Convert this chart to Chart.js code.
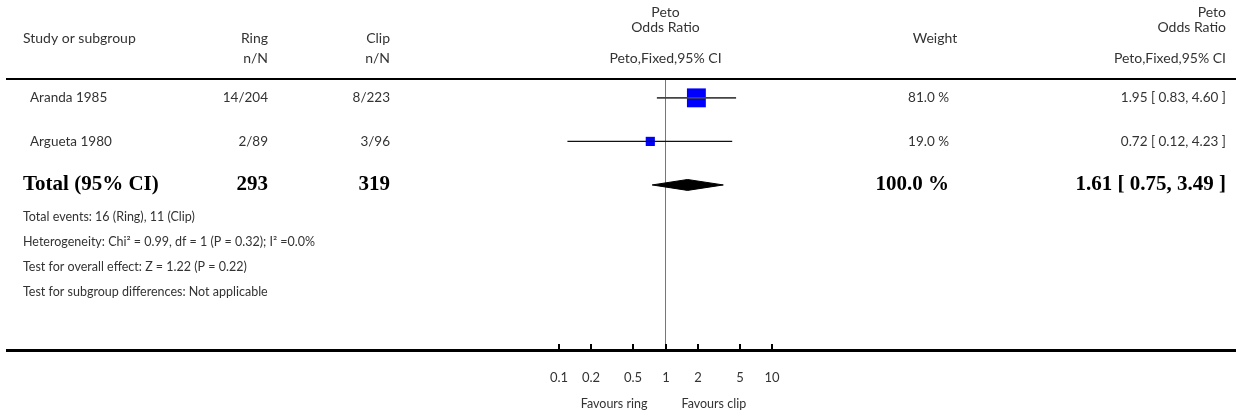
<!DOCTYPE html>
<html><head><meta charset="utf-8">
<script src="https://cdn.jsdelivr.net/npm/chart.js@4.4.1/dist/chart.umd.min.js"></script>
<style>html,body{margin:0;padding:0;background:#fff}#wrap{width:1236px;height:418px;position:relative}</style>
</head><body><div id="wrap"><canvas id="c" width="1236" height="418"></canvas></div>
<script>
// ---- data ----
const studies = ['Aranda 1985', 'Argueta 1980'];
const ringEvents = ['14/204', '2/89'];
const clipEvents = ['8/223', '3/96'];
const oddsRatio = [1.95, 0.72];
const ciLow = [0.83, 0.12];
const ciHigh = [4.60, 4.23];
const weights = [81.0, 19.0];
const weightLabels = ['81.0 %', '19.0 %'];
const ciLabels = ['1.95 [ 0.83, 4.60 ]', '0.72 [ 0.12, 4.23 ]'];
const totalLabel = 'Total (95% CI)';
const totalRing = '293';
const totalClip = '319';
const totalOR = 1.61, totalLow = 0.75, totalHigh = 3.49;
const totalWeight = '100.0 %';
const totalCI = '1.61 [ 0.75, 3.49 ]';
const footnotes = [
  'Total events: 16 (Ring), 11 (Clip)',
  'Heterogeneity: Chi² = 0.99, df = 1 (P = 0.32); I² =0.0%',
  'Test for overall effect: Z = 1.22 (P = 0.22)',
  'Test for subgroup differences: Not applicable'
];
const tickValues = [0.1, 0.2, 0.5, 1, 2, 5, 10];
const tickLabels = ['0.1', '0.2', '0.5', '1', '2', '5', '10'];
const favourLeft = 'Favours ring', favourRight = 'Favours clip';

// ---- datasets ----
const FONT = 'Lato, "Open Sans", sans-serif';
const SERIF = '"Liberation Serif", "DejaVu Serif", serif';
const TXT = '#333';
const totalRow = studies.length;
const ds = [];
studies.forEach((s, i) => {
  ds.push({type: 'line', data: [{x: ciLow[i], y: i}, {x: ciHigh[i], y: i}],
    borderColor: i === 0 ? '#444' : '#111', borderWidth: i === 0 ? 1.6 : 1.1, pointRadius: 0, fill: false});
});
ds.push({type: 'scatter', data: studies.map((s, i) => ({x: oddsRatio[i], y: i})),
  pointStyle: 'rect', backgroundColor: '#0000ff', borderWidth: 0,
  pointBorderWidth: 0,
  pointRadius: weights.map(w => 2.1 * Math.sqrt(w) / Math.SQRT2),
  pointHoverRadius: weights.map(w => 2.1 * Math.sqrt(w) / Math.SQRT2)});
ds.push({type: 'scatter', data: studies.map((s, i) => ({x: oddsRatio[i], y: i})),
  pointStyle: 'line', rotation: 90, borderColor: '#000', pointBorderColor: '#000', pointBorderWidth: 1,
  pointRadius: 3});
// diamond (upper + lower halves)
const dh = 0.125;
ds.push({type: 'line', data: [{x: totalLow, y: totalRow}, {x: totalOR, y: totalRow - dh}, {x: totalHigh, y: totalRow}],
  borderColor: '#000', borderWidth: 1, pointRadius: 0, backgroundColor: '#000', fill: false, tension: 0});
ds.push({type: 'line', data: [{x: totalLow, y: totalRow}, {x: totalOR, y: totalRow + dh}, {x: totalHigh, y: totalRow}],
  borderColor: '#000', borderWidth: 1, pointRadius: 0, backgroundColor: '#000', fill: '-1', tension: 0});
// line of no effect
const yTop = -0.41, yBottom = 5.79;
ds.push({type: 'line', data: [{x: 1, y: yTop}, {x: 1, y: yBottom}],
  borderColor: '#777', borderWidth: 1, pointRadius: 0, fill: false});

const textPlugin = {
  id: 'forestText',
  afterDraw(chart) {
    const ctx = chart.ctx, xs = chart.scales.x, ys = chart.scales.y;
    const W = chart.width;
    ctx.save();
    ctx.fillStyle = TXT;
    ctx.textBaseline = 'middle';
    const t = (s, x, y, align, font) => { ctx.font = font || ('13.5px ' + FONT); ctx.textAlign = align; ctx.fillText(s, x, y); };
    const cx = xs.getPixelForValue(1);
    const hf = '14px ' + FONT;
    // header
    t('Study or subgroup', 23, 38, 'left', hf);
    t('Ring', 268, 38, 'right', hf);
    t('Clip', 390, 38, 'right', hf);
    t('n/N', 268, 58, 'right', hf);
    t('n/N', 390, 58, 'right', hf);
    t('Peto', cx, 12, 'center', hf);
    t('Odds Ratio', cx, 27, 'center', hf);
    t('Peto,Fixed,95% CI', cx, 58, 'center', hf);
    t('Weight', 935, 38, 'center', hf);
    t('Peto', 1226, 12, 'right', hf);
    t('Odds Ratio', 1226, 27, 'right', hf);
    t('Peto,Fixed,95% CI', 1226, 58, 'right', hf);
    // header rule
    ctx.fillStyle = '#000';
    ctx.fillRect(6, ys.top - 2, W - 6, 2);
    ctx.fillStyle = TXT;
    // rows
    studies.forEach((s, i) => {
      const y = ys.getPixelForValue(i);
      t(s, 30, y, 'left');
      t(ringEvents[i], 268, y, 'right');
      t(clipEvents[i], 390, y, 'right');
      t(weightLabels[i], 949, y, 'right');
      t(ciLabels[i], 1226, y, 'right');
    });
    const yT = ys.getPixelForValue(totalRow);
    ctx.fillStyle = '#000';
    const bf = 'bold 21px ' + SERIF;
    t(totalLabel, 23, yT, 'left', bf);
    t(totalRing, 268, yT, 'right', bf);
    t(totalClip, 390, yT, 'right', bf);
    t(totalWeight, 949, yT, 'right', bf);
    t(totalCI, 1226, yT, 'right', bf);
    ctx.fillStyle = TXT;
    footnotes.forEach((f, k) => t(f, 23, 217 + 25 * k, 'left', '12.5px ' + FONT));
    // axis
    ctx.fillStyle = '#000';
    ctx.fillRect(6, ys.bottom - 1, W - 6, 3);
    tickValues.forEach((v, k) => {
      const x = Math.round(xs.getPixelForValue(v));
      ctx.fillRect(x - 1, ys.bottom - 6, 2, 6);
      ctx.fillStyle = TXT;
      t(tickLabels[k], x, 378, 'center', '13px ' + FONT);
      ctx.fillStyle = '#000';
    });
    ctx.fillStyle = TXT;
    t(favourLeft, cx - 18, 404, 'right', '12.5px ' + FONT);
    t(favourRight, cx + 16, 404, 'left', '12.5px ' + FONT);
    ctx.restore();
  }
};

new Chart(document.getElementById('c'), {
  data: {datasets: ds},
  options: {
    responsive: false, animation: false, devicePixelRatio: 1,
    layout: {padding: {left: 559, right: 464, top: 80, bottom: 68}},
    plugins: {legend: {display: false}, tooltip: {enabled: false}},
    scales: {
      x: {type: 'logarithmic', min: 0.1, max: 10, display: false},
      y: {type: 'linear', min: yTop, max: yBottom, reverse: true, display: false}
    }
  },
  plugins: [textPlugin]
});
</script></body></html>
